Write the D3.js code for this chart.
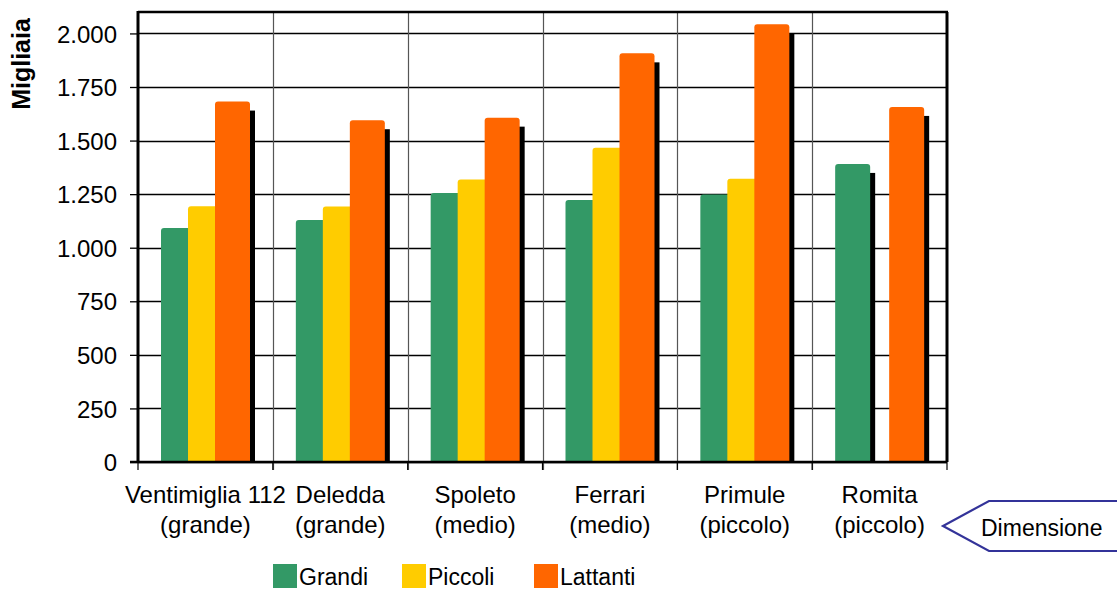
<!DOCTYPE html>
<html>
<head>
<meta charset="utf-8">
<script src="https://cdn.jsdelivr.net/npm/d3@7"></script>
<style>
  body { margin: 0; background: #fff; }
  text { font-family: Tahoma, "Liberation Sans", Arial, sans-serif; }
</style>
</head>
<body>
<div id="chart"></div>
<script>
var categories = ["Ventimiglia 112|(grande)", "Deledda|(grande)", "Spoleto|(medio)", "Ferrari|(medio)", "Primule|(piccolo)", "Romita|(piccolo)"];
var seriesNames = ["Grandi", "Piccoli", "Lattanti"];
var seriesColors = ["#339966", "#FFCC00", "#FF6600"];
var grandi = [1092, 1129, 1255, 1223, 1248, 1391];
var piccoli = [1193, 1192, 1318, 1467, 1322, null];
var lattanti = [1682, 1595, 1607, 1907, 2043, 1657];
var yTicks = [0, 250, 500, 750, 1000, 1250, 1500, 1750, 2000];
var yTickLabels = ["0", "250", "500", "750", "1.000", "1.250", "1.500", "1.750", "2.000"];

draw();

function draw() {
  var width = 1117;
  var height = 589;
  var left = 138, right = 947, top = 12, bottom = 462;

  var svg = d3.select("#chart")
    .append("svg")
    .attr("width", width)
    .attr("height", height);

  var x = d3.scaleBand()
    .domain(categories)
    .range([left, right]);

  // offsets of the three bars inside each category (they overlap)
  var xs = d3.scalePoint()
    .domain(seriesNames)
    .range([23, 77]);
  var barW = 35;

  var y = d3.scaleLinear()
    .domain([0, 2100])
    .range([bottom, top]);

  // horizontal gridlines
  svg.append("g")
    .selectAll("line")
    .data(yTicks)
    .enter()
    .append("line")
    .attr("x1", left)
    .attr("x2", right)
    .attr("y1", function(d) { return Math.round(y(d)) + 0.5; })
    .attr("y2", function(d) { return Math.round(y(d)) + 0.5; })
    .style("stroke", "#000")
    .style("stroke-width", 1.3);

  // vertical category lines
  svg.append("g")
    .selectAll("line")
    .data(categories.slice(1))
    .enter()
    .append("line")
    .attr("x1", function(d) { return Math.round(x(d)) + 0.5; })
    .attr("x2", function(d) { return Math.round(x(d)) + 0.5; })
    .attr("y1", top)
    .attr("y2", bottom + 8)
    .style("stroke", "#555")
    .style("stroke-width", 1.2);

  var rows = [];
  var data = [grandi, piccoli, lattanti];
  categories.forEach(function(c, i) {
    seriesNames.forEach(function(s, j) {
      if (data[j][i] != null) rows.push({cat: c, s: s, v: data[j][i], color: seriesColors[j]});
    });
  });

  svg.append("clipPath").attr("id", "plotclip")
    .append("rect")
    .attr("x", left).attr("y", 0)
    .attr("width", right - left).attr("height", bottom);

  var bars = svg.append("g").attr("clip-path", "url(#plotclip)");
  rows.forEach(function(d) {
    var bx = x(d.cat) + xs(d.s);
    bars.append("rect")
      .attr("x", bx + 5)
      .attr("y", y(d.v) + 9)
      .attr("width", barW)
      .attr("height", bottom - y(d.v))
      .attr("fill", "#000");
    bars.append("path")
      .attr("d", topRounded(bx, y(d.v), barW, bottom - y(d.v), 3))
      .attr("fill", d.color);
  });

  // frame: top and right borders
  svg.append("line")
    .attr("x1", left).attr("x2", right + 1)
    .attr("y1", top).attr("y2", top)
    .style("stroke", "#000").style("stroke-width", 2.5);
  svg.append("line")
    .attr("x1", right).attr("x2", right)
    .attr("y1", top).attr("y2", bottom)
    .style("stroke", "#000").style("stroke-width", 3);

  // y axis
  var yAxis = d3.axisLeft(y)
    .tickValues(yTicks)
    .tickSize(8)
    .tickFormat(function(d, i) { return yTickLabels[i]; });
  var gy = svg.append("g")
    .attr("transform", "translate(" + left + ",0)")
    .call(yAxis);
  gy.select(".domain").remove();
  gy.selectAll(".tick line").style("stroke", "#000").style("stroke-width", 1.3);
  gy.selectAll(".tick text")
    .attr("x", -21)
    .attr("dy", "0.36em")
    .style("font-size", "24px")
    .style("font-family", "Tahoma, 'Liberation Sans', Arial, sans-serif")
    .attr("fill", "#000");
  svg.append("line")
    .attr("x1", left).attr("x2", left)
    .attr("y1", top - 1).attr("y2", bottom)
    .style("stroke", "#000").style("stroke-width", 3);

  // x axis
  svg.append("line")
    .attr("x1", left - 8).attr("x2", right)
    .attr("y1", bottom).attr("y2", bottom)
    .style("stroke", "#000").style("stroke-width", 2.5);
  svg.append("g")
    .selectAll("line")
    .data(categories.concat(["end"]))
    .enter()
    .append("line")
    .attr("x1", function(d, i) { return i < categories.length ? x(d) : right; })
    .attr("x2", function(d, i) { return i < categories.length ? x(d) : right; })
    .attr("y1", bottom)
    .attr("y2", bottom + 8)
    .style("stroke", "#000")
    .style("stroke-width", 1.2);

  var lab = svg.append("g")
    .selectAll("text")
    .data(categories)
    .enter()
    .append("text")
    .attr("text-anchor", "middle")
    .attr("fill", "#000")
    .style("font-size", "24px");
  lab.append("tspan")
    .attr("x", function(d) { return x(d) + x.bandwidth() / 2; })
    .attr("y", 503)
    .text(function(d) { return d.split("|")[0]; });
  lab.append("tspan")
    .attr("x", function(d) { return x(d) + x.bandwidth() / 2; })
    .attr("y", 533)
    .text(function(d) { return d.split("|")[1]; });

  // y title
  svg.append("text")
    .attr("transform", "translate(30," + 64 + ") rotate(-90)")
    .attr("text-anchor", "middle")
    .style("font-size", "25px")
    .style("font-weight", "bold")
    .attr("fill", "#000")
    .text("Migliaia");

  // legend
  var legX = [273, 402, 534];
  var leg = svg.append("g")
    .selectAll("g")
    .data(seriesNames)
    .enter()
    .append("g")
    .attr("transform", function(d, i) { return "translate(" + legX[i] + ",564)"; });
  leg.append("rect")
    .attr("width", 24)
    .attr("height", 24)
    .attr("fill", function(d, i) { return seriesColors[i]; });
  leg.append("text")
    .attr("x", 26)
    .attr("y", 21)
    .style("font-size", "23px")
    .attr("fill", "#000")
    .text(function(d) { return d; });

  // Dimensione callout
  svg.append("path")
    .attr("d", "M1125,501 L989,501 L943,526 L989,551 L1125,551")
    .attr("fill", "#fff")
    .attr("stroke", "#333399")
    .attr("stroke-width", 2.2);
  svg.append("text")
    .attr("x", 981)
    .attr("y", 536)
    .style("font-size", "23px")
    .attr("fill", "#000")
    .text("Dimensione");
}

function topRounded(x0, y0, w, h, r) {
  return "M" + x0 + "," + (y0 + h) +
    "L" + x0 + "," + (y0 + r) +
    "Q" + x0 + "," + y0 + " " + (x0 + r) + "," + y0 +
    "L" + (x0 + w - r) + "," + y0 +
    "Q" + (x0 + w) + "," + y0 + " " + (x0 + w) + "," + (y0 + r) +
    "L" + (x0 + w) + "," + (y0 + h) + "Z";
}
</script>
</body>
</html>
